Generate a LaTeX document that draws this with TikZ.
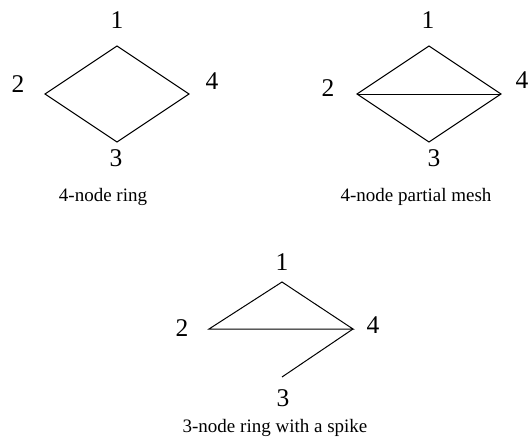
\documentclass[tikz,border=0pt]{standalone}
\usepackage{fontspec}
\setmainfont{Liberation Serif}
\begin{document}
\begin{tikzpicture}[x=1pt,y=-1pt,
  lbl/.style={inner sep=0pt,font=\fontsize{25.5}{30}\selectfont},
  captxt/.style={inner sep=0pt,font=\fontsize{19}{22}\selectfont},
  link/.style={draw=black,line width=1pt,line join=miter}]
\useasboundingbox (0,0) rectangle (529,447);
% diagram 1
\coordinate (a1) at (117,46);
\coordinate (a2) at (45,94);
\coordinate (a4) at (189,94);
\coordinate (a3) at (117,142);
\node[lbl] (la1) at (117,20) {1};
\node[lbl] (la2) at (18,84) {2};
\node[lbl] (la4) at (212,81) {4};
\node[lbl] (la3) at (116,158) {3};
\node[captxt] (ca) at (103,197) {4-node ring};
\draw[link] (a1) -- (a4) -- (a3) -- (a2) -- cycle;
% diagram 2
\coordinate (b1) at (429,46);
\coordinate (b2) at (357,94);
\coordinate (b4) at (501,94);
\coordinate (b3) at (429,142);
\node[lbl] (lb1) at (428,20) {1};
\node[lbl] (lb2) at (328,88) {2};
\node[lbl] (lb4) at (522,80) {4};
\node[lbl] (lb3) at (434,158) {3};
\node[captxt] (cb) at (416,197) {4-node partial mesh};
\draw[link] (b1) -- (b4) -- (b3) -- (b2) -- cycle;
\draw[link] (b2) -- (b4);
% diagram 3
\coordinate (c1) at (282,282);
\coordinate (c2) at (209,329);
\coordinate (c4) at (353,329);
\coordinate (c3) at (282,377);
\node[lbl] (lc1) at (282,262) {1};
\node[lbl] (lc2) at (182,328) {2};
\node[lbl] (lc4) at (373,325) {4};
\node[lbl] (lc3) at (283,398) {3};
\node[captxt] (cc) at (275,428) {3-node ring with a spike};
\draw[link] (c1) -- (c4) -- (c2) -- cycle;
\draw[link] (c4) -- (c3);
\end{tikzpicture}
\end{document}
